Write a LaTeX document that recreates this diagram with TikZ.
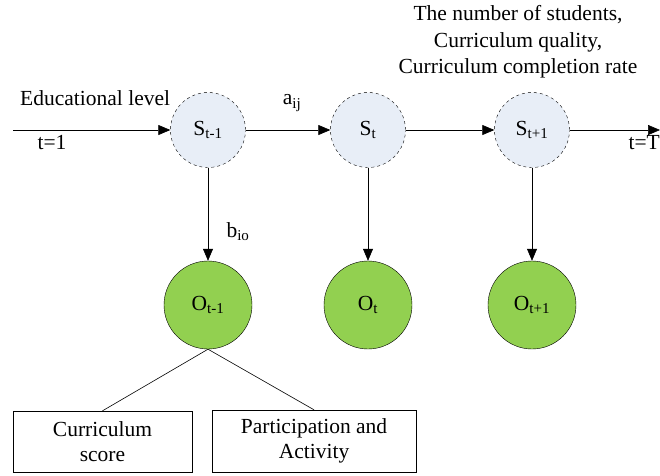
\documentclass[tikz,border=0pt]{standalone}
\usepackage{fontspec}
\setmainfont{Liberation Serif}
\usetikzlibrary{arrows.meta}
\definecolor{sfill}{HTML}{E8EEF7}
\definecolor{ofill}{HTML}{92D050}
\tikzset{
  snode/.style={circle,draw=black,dashed,fill=sfill,minimum size=75pt,inner sep=0pt,font=\fontsize{21.5}{24}\selectfont},
  onode/.style={circle,draw=black,fill=ofill,minimum size=88pt,inner sep=0pt,font=\fontsize{21.5}{24}\selectfont},
  boxnode/.style={rectangle,draw=black,align=center,inner sep=0pt,font=\fontsize{21.5}{25}\selectfont},
  lbl/.style={font=\fontsize{21.5}{26.5}\selectfont,inner sep=0pt},
  arr/.style={-{Triangle[length=12pt,width=10pt]},line width=0.6pt},
  ln/.style={line width=0.6pt}
}
\begin{document}
\begin{tikzpicture}[x=1pt,y=-1pt]
\useasboundingbox (0,0) rectangle (660,475);
\node[snode] (s1) at (208,130) {S\textsubscript{t-1}};
\node[snode] (s2) at (368,130) {S\textsubscript{t}};
\node[snode] (s3) at (532,130) {S\textsubscript{t+1}};
\node[onode] (o1) at (208,305) {O\textsubscript{t-1}};
\node[onode] (o2) at (368,305) {O\textsubscript{t}};
\node[onode] (o3) at (532,305) {O\textsubscript{t+1}};
\coordinate (start) at (13,130);
\coordinate (end) at (660,130);
\draw[arr] (start) -- (s1);
\draw[arr] (s1) -- (s2);
\draw[arr] (s2) -- (s3);
\draw[arr] (s3) -- (end);
\draw[arr] (s1) -- (o1);
\draw[arr] (s2) -- (o2);
\draw[arr] (s3) -- (o3);
\node[boxnode,minimum width=179pt,minimum height=61pt] (b1) at (102.5,441.5) {Curriculum\\score};
\node[boxnode,minimum width=204pt,minimum height=62pt] (b2) at (314,441) {Participation and\\Activity};
\draw[ln] (o1.south) -- (b1.north);
\draw[ln] (o1.south) -- (b2.north);
\node[lbl,anchor=west] (edu) at (20,98) {Educational level};
\node[lbl] (t1) at (52,143) {t=1};
\node[lbl] (aij) at (292,103) {a\textsubscript{ij}};
\node[lbl] (bio) at (238,232) {b\textsubscript{io}};
\node[lbl,anchor=east] (tT) at (660,143) {t=T};
\node[lbl,align=center] (top) at (518,42) {The number of students,\\Curriculum quality,\\Curriculum completion rate};
\end{tikzpicture}
\end{document}
